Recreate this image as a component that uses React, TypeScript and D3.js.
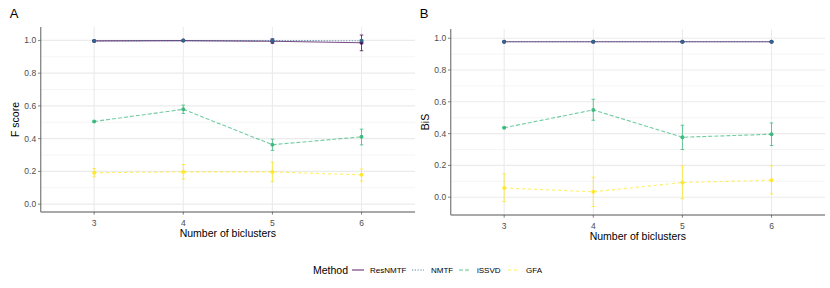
import React from 'react'
import * as d3 from 'd3'

// number of biclusters on the x axis
const ks = [3, 4, 5, 6]
const methods = ['ResNMTF', 'NMTF', 'iSSVD', 'GFA']
const colors = ['#440154', '#31688E', '#35B779', '#FDE725']
const dashes = ['none', '1.2,1.6', '4,2', '3,3']

// F score (panel A): mean, lower and upper error per method
const fMean = [
  [0.997, 0.999, 0.995, 0.986],
  [0.996, 0.999, 0.999, 0.998],
  [0.505, 0.579, 0.363, 0.411],
  [0.192, 0.197, 0.197, 0.179],
]
const fLow = [
  [0.994, 0.997, 0.982, 0.937],
  [0.993, 0.998, 0.99, 0.995],
  [0.503, 0.554, 0.328, 0.362],
  [0.167, 0.153, 0.138, 0.142],
]
const fHigh = [
  [1.0, 1.0, 1.01, 1.033],
  [0.999, 1.0, 1.006, 1.003],
  [0.507, 0.605, 0.397, 0.458],
  [0.218, 0.242, 0.257, 0.214],
]

// BiS (panel B)
const bMean = [
  [0.978, 0.978, 0.978, 0.978],
  [0.978, 0.978, 0.978, 0.978],
  [0.437, 0.549, 0.377, 0.396],
  [0.058, 0.034, 0.092, 0.107],
]
const bLow = [
  [0.976, 0.976, 0.976, 0.976],
  [0.976, 0.976, 0.976, 0.976],
  [0.435, 0.484, 0.3, 0.325],
  [-0.028, -0.059, -0.009, 0.021],
]
const bHigh = [
  [0.98, 0.98, 0.98, 0.98],
  [0.98, 0.98, 0.98, 0.98],
  [0.439, 0.616, 0.453, 0.467],
  [0.147, 0.126, 0.197, 0.197],
]

const yTicks = [0, 0.2, 0.4, 0.6, 0.8, 1.0]
const yMinor = [0.1, 0.3, 0.5, 0.7, 0.9]

const font = "'Liberation Sans', Arial, sans-serif"

function Panel(props: any) {
  const { left, right, top, bottom, yDomain, mean, low, high, label, yTitle } = props
  const x = d3.scaleLinear().domain([2.4, 6.6]).range([left, right])
  const y = d3.scaleLinear().domain(yDomain).range([bottom, top])
  const line = d3.line<number>().x((d, i) => x(ks[i])).y(d => y(d))
  const cap = 0.02

  return (
    <g>
      {yMinor.filter(v => y(v) >= top && y(v) <= bottom).map(v => (
        <line key={'m' + v} x1={left} x2={right} y1={y(v)} y2={y(v)} stroke="#F3F3F3" strokeWidth={0.8} />
      ))}
      {yTicks.map(v => (
        <line key={'g' + v} x1={left} x2={right} y1={y(v)} y2={y(v)} stroke="#EBEBEB" strokeWidth={1.1} />
      ))}
      {ks.map(k => (
        <line key={'v' + k} x1={x(k)} x2={x(k)} y1={top} y2={bottom} stroke="#EBEBEB" strokeWidth={1.1} />
      ))}
      <line x1={left} x2={left} y1={top} y2={bottom} stroke="#8C8C8C" strokeWidth={1.4} />
      <line x1={left} x2={right} y1={bottom} y2={bottom} stroke="#8C8C8C" strokeWidth={1.4} />

      {yTicks.map(v => (
        <line key={'yk' + v} x1={left - 2.7} x2={left} y1={y(v)} y2={y(v)} stroke="#333" strokeWidth={0.6} />
      ))}
      {ks.map(k => (
        <line key={'xk' + k} x1={x(k)} x2={x(k)} y1={bottom} y2={bottom + 2.7} stroke="#333" strokeWidth={0.6} />
      ))}

      {yTicks.map(v => (
        <text key={'t' + v} x={left - 4.5} y={y(v) + 3} textAnchor="end" fontSize={8.5} fill="#4D4D4D" fontFamily={font}>
          {d3.format('.1f')(v)}
        </text>
      ))}
      {ks.map(k => (
        <text key={'xt' + k} x={x(k)} y={bottom + 13.5} textAnchor="middle" fontSize={8.5} fill="#4D4D4D" fontFamily={font}>
          {k}
        </text>
      ))}
      <text x={(left + right) / 2} y={bottom + 25} textAnchor="middle" fontSize={10.5} fill="#000" fontFamily={font}>
        Number of biclusters
      </text>
      <text
        transform={`translate(${left - 22},${(top + bottom) / 2}) rotate(-90)`}
        textAnchor="middle"
        fontSize={10.5}
        fill="#000"
        fontFamily={font}
      >
        {yTitle}
      </text>
      <text x={left - 31} y={18} fontSize={13} fill="#000" fontFamily={font}>
        {label}
      </text>

      {methods.map((m, mi) => (
        <g key={m}>
          <path
            d={line(mean[mi]) || ''}
            fill="none"
            stroke={colors[mi]}
            strokeOpacity={0.7}
            strokeWidth={1.1}
            strokeDasharray={dashes[mi]}
          />
          {ks.map((k, i) => (
            <g key={k} stroke={colors[mi]} strokeOpacity={0.75} strokeWidth={1}>
              <line x1={x(k)} x2={x(k)} y1={y(low[mi][i])} y2={y(high[mi][i])} />
              <line x1={x(k - cap)} x2={x(k + cap)} y1={y(low[mi][i])} y2={y(low[mi][i])} />
              <line x1={x(k - cap)} x2={x(k + cap)} y1={y(high[mi][i])} y2={y(high[mi][i])} />
            </g>
          ))}
          {ks.map((k, i) => (
            <circle key={'p' + k} cx={x(k)} cy={y(mean[mi][i])} r={2} fill={colors[mi]} fillOpacity={0.9} />
          ))}
        </g>
      ))}
    </g>
  )
}

function Legend() {
  const items = [
    { x1: 352, tx: 370 },
    { x1: 412, tx: 431 },
    { x1: 459, tx: 477 },
    { x1: 508, tx: 526 },
  ]
  return (
    <g>
      <text x={313} y={274} fontSize={10.5} fill="#000" fontFamily={font}>Method</text>
      {methods.map((m, i) => (
        <g key={m}>
          <line
            x1={items[i].x1}
            x2={items[i].x1 + 12}
            y1={270}
            y2={270}
            stroke={colors[i]}
            strokeOpacity={0.8}
            strokeWidth={1.1}
            strokeDasharray={dashes[i]}
          />
          <text x={items[i].tx} y={273} fontSize={8} fill="#000" fontFamily={font}>{m}</text>
        </g>
      ))}
    </g>
  )
}

export default function App() {
  return (
    <svg width={830} height={288} style={{ position: 'absolute', left: 0, top: 0, background: '#fff' }}>
      <Panel
        left={40.7}
        right={415}
        top={27}
        bottom={212}
        yDomain={[-0.048, 1.082]}
        mean={fMean}
        low={fLow}
        high={fHigh}
        label="A"
        yTitle="F score"
      />
      <Panel
        left={450.7}
        right={825}
        top={29}
        bottom={215}
        yDomain={[-0.112, 1.058]}
        mean={bMean}
        low={bLow}
        high={bHigh}
        label="B"
        yTitle="BiS"
      />
      <Legend />
    </svg>
  )
}
